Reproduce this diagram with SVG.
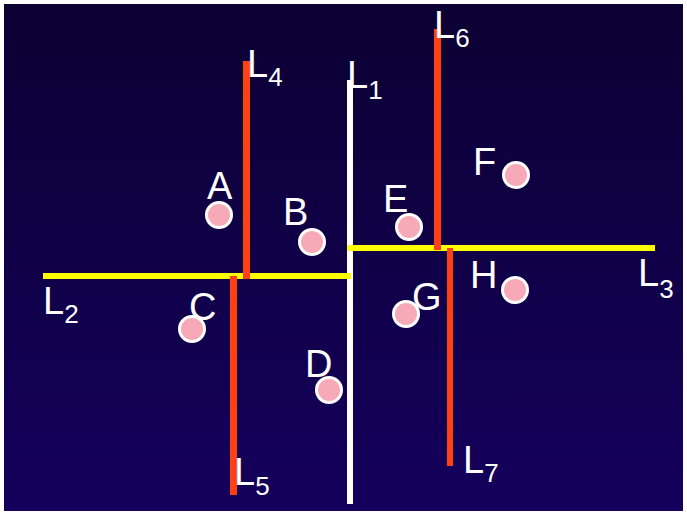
<svg xmlns="http://www.w3.org/2000/svg" width="687" height="514" viewBox="0 0 687 514">
  <defs>
    <linearGradient id="bg" x1="0" y1="0" x2="0" y2="1">
      <stop offset="0" stop-color="#0c0033"/>
      <stop offset="1" stop-color="#14005c"/>
    </linearGradient>
  </defs>
  <style>
    .lbl { font-family: "Liberation Sans", Arial, sans-serif; font-size: 38px; fill: #ffffff; }
    .sub { font-size: 26px; }
    .pt { fill: #f7a9b8; stroke: #ffffff; stroke-width: 3; }
    .red { fill: #ff4013; }
    .yel { fill: #ffff00; }
    .wht { fill: #ffffff; }
  </style>
  <rect x="0" y="0" width="687" height="514" fill="#ffffff"/>
  <rect x="4" y="4" width="679" height="507" fill="url(#bg)"/>

  <g id="connectors">
    <rect id="L1" class="wht" x="347" y="80" width="6" height="424"/>
    <rect id="L2" class="yel" x="43" y="273" width="308" height="6"/>
    <rect id="L3" class="yel" x="347" y="245" width="308" height="6"/>
    <rect id="L4" class="red" x="243" y="61" width="7" height="218"/>
    <rect id="L5" class="red" x="230" y="276" width="7" height="219"/>
    <rect id="L6" class="red" x="434" y="29" width="7" height="221"/>
    <rect id="L7" class="red" x="447" y="248" width="6" height="218"/>
  </g>

  <g id="line-labels" class="lbl">
    <text id="label-L1" x="347" y="88">L<tspan class="sub" dy="11">1</tspan></text>
    <text id="label-L2" x="43" y="314">L<tspan class="sub" dy="9">2</tspan></text>
    <text id="label-L3" x="638" y="286">L<tspan class="sub" dy="12">3</tspan></text>
    <text id="label-L4" x="247" y="77">L<tspan class="sub" dy="9">4</tspan></text>
    <text id="label-L5" x="234" y="485">L<tspan class="sub" dy="10">5</tspan></text>
    <text id="label-L6" x="434" y="38">L<tspan class="sub" dy="9">6</tspan></text>
    <text id="label-L7" x="463" y="473">L<tspan class="sub" dy="9">7</tspan></text>
  </g>

  <g id="A"><circle class="pt" cx="219" cy="215" r="12.5"/><text class="lbl" x="207" y="199">A</text></g>
  <g id="B"><circle class="pt" cx="312" cy="242" r="12.5"/><text class="lbl" x="283" y="225">B</text></g>
  <g id="C"><circle class="pt" cx="192" cy="329" r="12.5"/><text class="lbl" x="189" y="320">C</text></g>
  <g id="D"><circle class="pt" cx="329" cy="390" r="12.5"/><text class="lbl" x="305" y="377">D</text></g>
  <g id="E"><circle class="pt" cx="409" cy="227" r="12.5"/><text class="lbl" x="383" y="212">E</text></g>
  <g id="F"><circle class="pt" cx="516" cy="175" r="12.5"/><text class="lbl" x="473" y="175">F</text></g>
  <g id="G"><circle class="pt" cx="406" cy="314" r="12.5"/><text class="lbl" x="412" y="310">G</text></g>
  <g id="H"><circle class="pt" cx="515" cy="290" r="12.5"/><text class="lbl" x="470" y="288">H</text></g>
</svg>
